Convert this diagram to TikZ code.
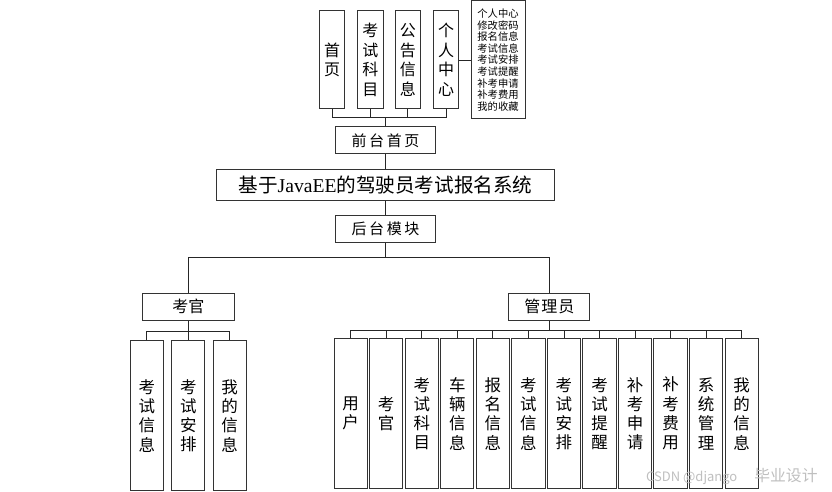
\documentclass[tikz,border=0pt]{standalone}
\usepackage{fontspec}
\newfontfamily\cjk{Noto Sans CJK SC}
\newfontfamily\lat{Liberation Serif}
\tikzset{
  box/.style={draw=black!80, line width=1pt, fill=white, inner sep=0pt, align=center},
  vtop/.style={box, minimum width=25.5pt, minimum height=98pt, font=\cjk\fontsize{16}{19.5}\selectfont},
  vbot/.style={box, minimum width=33.3pt, minimum height=149.5pt, font=\cjk\fontsize{16.5}{19.3}\selectfont},
  hbox/.style={box, minimum height=27pt, font=\cjk\fontsize{15}{18}\selectfont},
  conn/.style={draw=black!85, line width=0.9pt},
}
\begin{document}
\begin{tikzpicture}[x=1pt,y=1pt]
\useasboundingbox (0,0) rectangle (832,-492);
% top row
\node[vtop] (t1) at (332.2,-60) {首\\页};
\node[vtop] (t2) at (370.3,-60) {考\\试\\科\\目};
\node[vtop] (t3) at (407.8,-60) {公\\告\\信\\息};
\node[vtop] (t4) at (446,-60) {个\\人\\中\\心};
\node[box, minimum width=54pt, minimum height=118pt, font=\cjk\fontsize{10.3}{11.6}\selectfont] (side) at (498,-60)
  {个人中心\\修改密码\\报名信息\\考试信息\\考试安排\\考试提醒\\补考申请\\补考费用\\我的收藏};
\draw[conn] (t4.east) -- (side.west);
% chain
\node[hbox, minimum width=100.7pt] (qt) at (385.5,-140.4) {前\hspace{2.6pt}台\hspace{2.6pt}首\hspace{2.6pt}页};
\node[box, minimum width=338.4pt, minimum height=31pt, font=\cjk\fontsize{19.6}{21}\selectfont] (title) at (385.5,-184.8) {基于{\lat JavaEE}的驾驶员考试报名系统};
\node[hbox, minimum width=100.7pt] (ht) at (385.5,-229.2) {后\hspace{2.6pt}台\hspace{2.6pt}模\hspace{2.6pt}块};
\coordinate (topbar) at (0,-117.7);
\draw[conn] (t1.south) -- (t1.south |- topbar) -- (t4.south |- topbar) -- (t4.south);
\draw[conn] (t2.south) -- (t2.south |- topbar);
\draw[conn] (t3.south) -- (t3.south |- topbar);
\draw[conn] (qt.north |- topbar) -- (qt.north);
\draw[conn] (qt.south) -- (title.north);
\draw[conn] (title.south) -- (ht.north);
% second level
\node[hbox, minimum width=92pt, font=\cjk\fontsize{16}{18}\selectfont] (kg) at (188.3,-306.7) {考官};
\node[hbox, minimum width=81.3pt, font=\cjk\fontsize{16}{18}\selectfont] (gl) at (549.3,-306.8) {管\hspace{1pt}理\hspace{1pt}员};
\coordinate (midbar) at (0,-257.7);
\draw[conn] (ht.south) -- (ht.south |- midbar);
\draw[conn] (kg.north) -- (kg.north |- midbar) -- (gl.north |- midbar) -- (gl.north);
% examiner children
\node[vbot, minimum width=33pt, minimum height=150pt] (k1) at (146.8,-415.7) {考\\试\\信\\息};
\node[vbot, minimum width=33pt, minimum height=150pt] (k2) at (188.3,-415.7) {考\\试\\安\\排};
\node[vbot, minimum width=33pt, minimum height=150pt] (k3) at (229.5,-415.7) {我\\的\\信\\息};
\coordinate (kbar) at (0,-331.3);
\draw[conn] (k1.north) -- (k1.north |- kbar) -- (k3.north |- kbar) -- (k3.north);
\draw[conn] (kg.south) -- (k2.north);
% admin children
\foreach \i/\t in {0/用\\户, 1/考\\官, 2/考\\试\\科\\目, 3/车\\辆\\信\\息, 4/报\\名\\信\\息, 5/考\\试\\信\\息, 6/考\\试\\安\\排, 7/考\\试\\提\\醒, 8/补\\考\\申\\请, 9/补\\考\\费\\用, 10/系\\统\\管\\理, 11/我\\的\\信\\息}{
  \node[vbot] (g\i) at ({350.65+35.55*\i},-413.7) {\t};
}
\coordinate (gbar) at (0,-330);
\draw[conn] (g0.north) -- (g0.north |- gbar) -- (g11.north |- gbar) -- (g11.north);
\foreach \i in {1,...,10}{ \draw[conn] (g\i.north) -- (g\i.north |- gbar); }
\draw[conn] (gl.south) -- (gl.south |- gbar);
% watermark
\node[text=black!25, font=\cjk\fontsize{13}{15}\selectfont, inner sep=0pt, anchor=west] (wm) at (646,-476.5) {CSDN @django\hspace{17pt}{\fontsize{15.8}{17}\selectfont 毕业设计}};
\end{tikzpicture}
\end{document}
